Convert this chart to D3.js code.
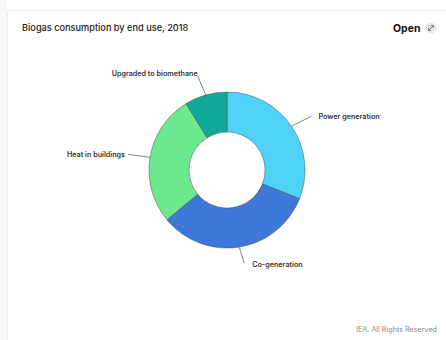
<!DOCTYPE html>
<html><head><meta charset="utf-8">
<script src="https://cdn.jsdelivr.net/npm/d3@7"></script>
<style>
html,body{margin:0;padding:0;background:#fff;}
svg{display:block;font-family:Inter, "Noto Sans", sans-serif;}
</style></head>
<body>
<svg id="c" width="446" height="340"></svg>
<script>
const categories = ["Power generation","Co-generation","Heat in buildings","Upgraded to biomethane"];
const values = [31, 33, 27.2, 8.8];
const colors = ["#4fd2f8","#3e78d8","#6ce98f","#10a898"];
const title = "Biogas consumption by end use, 2018";
const footer = "IEA. All Rights Reserved";

const svg = d3.select("#c");
svg.append("rect").attr("x",0).attr("y",0).attr("width",7).attr("height",340).attr("fill","#f7f7f7");
svg.append("rect").attr("x",7.5).attr("y",10.5).attr("width",446).attr("height",340)
  .attr("fill","#fff").attr("stroke","#ebebeb");

svg.append("text").attr("x",22).attr("y",31).attr("font-size",9.2).attr("fill","#222")
  .attr("font-weight",500).text(title);
svg.append("text").attr("x",393).attr("y",32).attr("font-size",10.5).attr("font-weight",700)
  .attr("fill","#111").text("Open");
svg.append("circle").attr("cx",431).attr("cy",28).attr("r",5.5).attr("fill","#e8e8e8");
svg.append("path").attr("d","M428.5,30.5 L433.5,25.5 M431,25.5 L433.5,25.5 L433.5,28 M428.5,28 L428.5,30.5 L431,30.5")
  .attr("stroke","#777").attr("stroke-width",0.9).attr("fill","none");

const cx = 227, cy = 170, rO = 78, rI = 38;
const g = svg.append("g").attr("transform",`translate(${cx},${cy})`);
const pie = d3.pie().sort(null).value(d=>d)(values);
const arc = d3.arc().innerRadius(rI).outerRadius(rO);
g.selectAll("path.s").data(pie).join("path").attr("class","s")
  .attr("d",arc).attr("fill",(d,i)=>colors[i]).attr("stroke","#4a4a4a").attr("stroke-width",0.5);

// labels with leader lines
const lab = [
  {anchor:"start", off:[20,-10], tx:7, ty:3},
  {anchor:"start", off:[5,16], tx:8, ty:4},
  {anchor:"end", off:[-22,-3], tx:-3, ty:3},
  {anchor:"end", off:[-8,-19], tx:0, ty:0}
];
pie.forEach((d,i)=>{
  const a = (d.startAngle+d.endAngle)/2;
  const x0 = Math.sin(a)*rO, y0 = -Math.cos(a)*rO;
  const x1 = x0+lab[i].off[0], y1 = y0+lab[i].off[1];
  g.append("line").attr("x1",x0).attr("y1",y0).attr("x2",x1).attr("y2",y1)
    .attr("stroke","#666").attr("stroke-width",0.8);
  g.append("text").attr("x",x1+lab[i].tx).attr("y",y1+lab[i].ty)
    .attr("text-anchor",lab[i].anchor)
    .attr("font-size",7.2).attr("font-weight",600).attr("fill","#333").text(categories[i]);
});

svg.append("text").attr("x",437).attr("y",332).attr("text-anchor","end")
  .attr("font-size",7.2).attr("fill","#8a8a8a").text(footer);
</script>
</body></html>
